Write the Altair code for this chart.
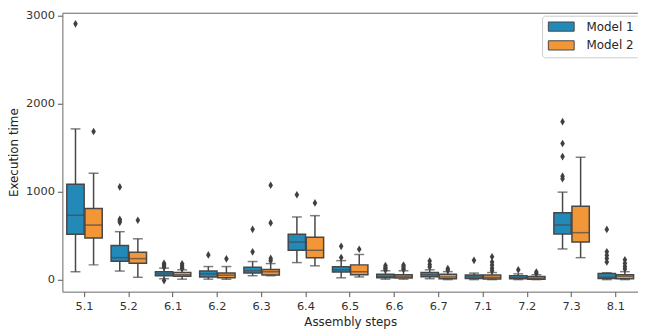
import altair as alt
import pandas as pd

steps = ["5.1", "5.2", "6.1", "6.2", "6.3", "6.4", "6.5", "6.6", "6.7", "7.1", "7.2", "7.3", "8.1"]
models = ["Model 1", "Model 2"]

# lower whisker, Q1, median, Q3, upper whisker per step
m1_lo = [89, 97, 10, 5, 44, 193, 20, 5, 10, 0, 0, 348, 0]
m1_q1 = [515, 208, 44, 30, 74, 333, 85, 20, 33, 11, 10, 519, 12]
m1_med = [730, 249, 65, 65, 100, 426, 111, 35, 55, 30, 25, 619, 28]
m1_q3 = [1082, 386, 89, 97, 140, 515, 145, 60, 82, 52, 45, 760, 70]
m1_hi = [1711, 544, 130, 148, 205, 711, 215, 100, 111, 74, 65, 993, 78]
m1_out = [[2904], [650, 667, 685, 1052], [-11, 140, 155, 170, 185], [280], [315, 571],
          [963], [250, 378], [110, 125, 140, 160], [144, 170, 211], [219], [111],
          [1145, 1174, 1397, 1545, 1793], [200, 240, 275, 315, 570]]

m2_lo = [167, 26, 5, 4, 44, 156, 30, 5, 0, 0, 0, 249, 0]
m2_q1 = [471, 186, 38, 22, 52, 249, 56, 18, 10, 8, 5, 426, 10]
m2_med = [619, 238, 55, 50, 89, 333, 89, 35, 30, 25, 15, 533, 38]
m2_q3 = [808, 311, 82, 74, 115, 482, 167, 55, 60, 52, 35, 834, 56]
m2_hi = [1208, 463, 111, 148, 182, 726, 285, 100, 90, 80, 55, 1389, 90]
m2_out = [[1682], [674], [125, 140, 160, 180], [236], [215, 240, 644, 1071],
          [871], [345], [115, 130, 150, 165], [105, 125], [100, 130, 165, 200, 259],
          [70, 85], [], [120, 150, 185, 225]]

colors = ["#2389b9", "#f39638"]
line_col = "#474747"

rows = []
outs = []
for m, (lo, q1, med, q3, hi, out) in zip(models, [
        (m1_lo, m1_q1, m1_med, m1_q3, m1_hi, m1_out),
        (m2_lo, m2_q1, m2_med, m2_q3, m2_hi, m2_out)]):
    for i, s in enumerate(steps):
        rows.append(dict(step=s, model=m, lo=lo[i], q1=q1[i], med=med[i], q3=q3[i], hi=hi[i]))
        for v in out[i]:
            outs.append(dict(step=s, model=m, value=v))
stats = pd.DataFrame(rows)
outliers = pd.DataFrame(outs)

font = "DejaVu Sans"
ysc = alt.Scale(domain=[-137, 3030], nice=False, zero=False)
x = alt.X("step:N", sort=steps,
          scale=alt.Scale(paddingInner=0.2, paddingOuter=0.1),
          axis=alt.Axis(title="Assembly steps", labelAngle=0, tickSize=5, labelPadding=4,
                        titlePadding=5))
xo = alt.XOffset("model:N", sort=models, scale=alt.Scale(paddingInner=0.04))
yax = alt.Axis(title="Execution time", values=[0, 1000, 2000, 3000], format="d", grid=False,
               tickSize=5, labelPadding=3, titlePadding=5)

base = alt.Chart(stats)

whisk = base.mark_rule(color=line_col, strokeWidth=1.5).encode(
    x=x, xOffset=xo,
    y=alt.Y("lo:Q", scale=ysc, axis=yax), y2="hi:Q")

box = base.mark_bar(stroke=line_col, strokeWidth=1.5, opacity=1).encode(
    x=x, xOffset=xo,
    y=alt.Y("q1:Q", scale=ysc), y2="q3:Q",
    color=alt.Color("model:N", sort=models,
                    scale=alt.Scale(domain=models, range=colors),
                    legend=alt.Legend(
                        title=None, orient="none", legendX=485, legendY=3,
                        padding=5, fillColor="white", strokeColor="#cccccc",
                        cornerRadius=3,
                        symbolType="M-1,-1L4.6,-1L4.6,1L-1,1Z",
                        symbolSize=87, symbolStrokeColor=line_col, symbolStrokeWidth=1,
                        symbolOpacity=1, labelOffset=28, rowPadding=5,
                        labelFont=font, labelFontSize=12, labelColor="#262626")))

med = base.mark_tick(color=line_col, thickness=1.5, size=17).encode(
    x=x, xOffset=xo, y=alt.Y("med:Q", scale=ysc))
cap_lo = base.mark_tick(color=line_col, thickness=1.5, size=10).encode(
    x=x, xOffset=xo, y=alt.Y("lo:Q", scale=ysc))
cap_hi = base.mark_tick(color=line_col, thickness=1.5, size=10).encode(
    x=x, xOffset=xo, y=alt.Y("hi:Q", scale=ysc))

pts = alt.Chart(outliers).mark_point(
    shape="M0,-1L0.6,0L0,1L-0.6,0Z", filled=True, color="#404040", size=60, opacity=1
).encode(x=x, xOffset=xo, y=alt.Y("value:Q", scale=ysc))

chart = alt.layer(whisk, box, med, cap_lo, cap_hi, pts).properties(
    width=582, height=282,
    autosize=alt.AutoSizeParams(type="none"),
    padding={"left": 55, "top": 3, "right": 0, "bottom": 40},
).configure_view(stroke="#666666", strokeWidth=1).configure_axis(
    domain=False, tickColor="#555555", labelFont=font, labelFontSize=11.5,
    labelColor="#333333", titleFont=font, titleFontSize=12, titleColor="#262626",
    titleFontWeight="normal", tickWidth=1)

chart.save("out.html", embed_options={"renderer": "svg", "actions": False})
